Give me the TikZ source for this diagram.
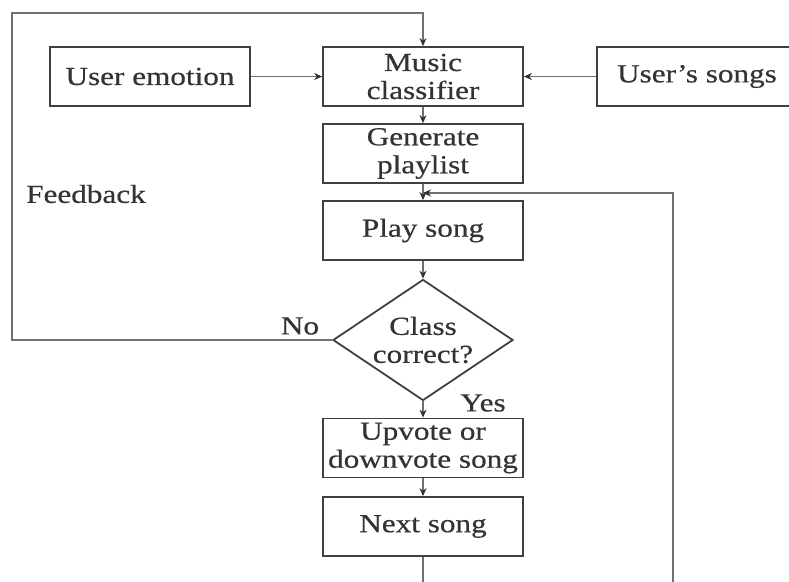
\documentclass[tikz,border=0pt]{standalone}
\usepackage{fontspec}
\setmainfont{Liberation Serif}[FakeStretch=1.2,FakeBold=0.5]
\usetikzlibrary{shapes.geometric,arrows.meta}
\definecolor{boxline}{HTML}{404040}
\definecolor{connline}{HTML}{707070}
\definecolor{tipcol}{HTML}{303030}
\definecolor{txt}{HTML}{333333}
\begin{document}
\begin{tikzpicture}[x=1pt,y=-1pt,
  box/.style={draw=boxline, line width=1.8pt, minimum width=200pt, minimum height=59pt,
    inner sep=0pt, align=center, font=\fontsize{26}{28}\selectfont, text=txt},
  lbl/.style={inner sep=0pt, align=center, font=\fontsize{26}{28}\selectfont, text=txt},
  conn/.style={draw=connline, line width=1.1pt},
  arr/.style={conn, -{Stealth[length=8pt,width=7pt,color=tipcol]}}]
\useasboundingbox (0,0) rectangle (789,581);
\clip (0,0) rectangle (789,581);
\node[box] (ue) at (150,76.5) {User emotion};
\node[box] (mc) at (423,76.5) {Music\\classifier};
\node[box] (us) at (697,76.5) {User’s songs};
\node[box] (gp) at (423,153.5) {Generate\\playlist};
\node[box] (ps) at (423,230.5) {Play song};
\node[diamond, draw=boxline, line width=1.8pt, minimum width=180pt, minimum height=121pt, inner sep=0pt] (dec) at (423,340) {};
\node[lbl] at (dec.center) {Class\\correct?};
\node[box] (uv) at (423,448) {Upvote or\\downvote song};
\node[box] (ns) at (423,526.5) {Next song};
\node[lbl] (fb) at (86,194) {Feedback};
\node[lbl] (no) at (300,326) {No};
\node[lbl] (yes) at (483,403) {Yes};
\coordinate (fbBL) at (12,340);
\coordinate (fbTL) at (12,13);
\coordinate (nsEnd) at (423,585);
\coordinate (rB) at (673,585);
\coordinate (rT) at (673,193);
\coordinate (merge) at (423,193);
\draw[arr] (ue.east) -- (mc.west);
\draw[arr] (us.west) -- (mc.east);
\draw[arr] (mc.south) -- (gp.north);
\draw[arr] (gp.south) -- (ps.north);
\draw[arr] (ps.south) -- (dec.north);
\draw[arr] (dec.south) -- (uv.north);
\draw[arr] (uv.south) -- (ns.north);
\draw[conn] (ns.south) -- (nsEnd);
\draw[arr] (dec.west) -- (fbBL) -- (fbTL) -| (mc.north);
\draw[arr] (rB) -- (rT) -- (merge);
\end{tikzpicture}
\end{document}
